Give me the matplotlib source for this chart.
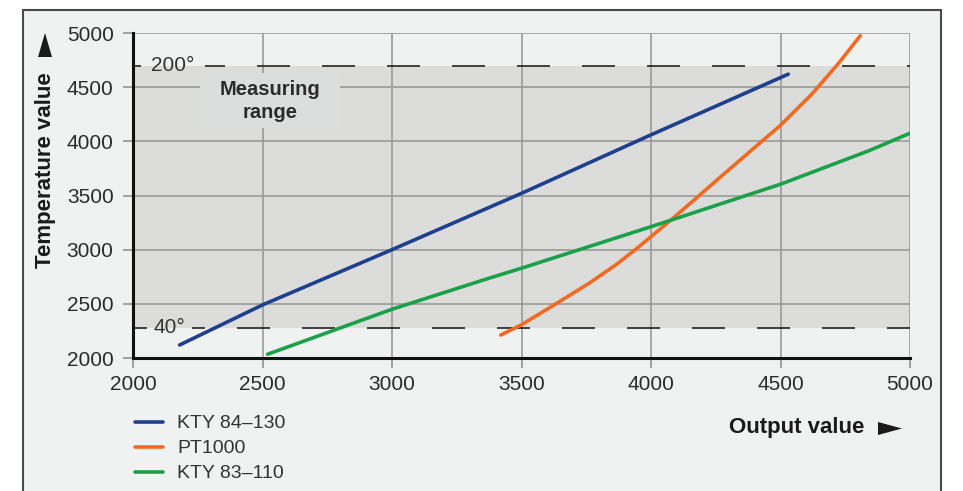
import matplotlib
matplotlib.use("Agg")
import matplotlib.pyplot as plt
from matplotlib.patches import Rectangle, Polygon

plt.rcParams['font.family'] = ['Liberation Sans', 'DejaVu Sans']
plt.rcParams['lines.scale_dashes'] = False

# ---- data ----
kty84_x = [2180, 2500, 3000, 3500, 4000, 4530]
kty84_y = [2120, 2490, 3000, 3520, 4060, 4620]

pt1000_x = [3420, 3500, 3633, 3761, 3864, 3954, 4000, 4069, 4172, 4275, 4403,
            4500, 4622, 4725, 4808]
pt1000_y = [2212, 2307, 2500, 2690, 2859, 3028, 3120, 3258, 3470, 3685, 3949,
            4148, 4438, 4723, 4974]

kty83_x = [2520, 3000, 3375, 3500, 4000, 4500, 4840, 5000]
kty83_y = [2035, 2450, 2737, 2829, 3212, 3604, 3912, 4075]

series_labels = ["KTY 84\u2013130", "PT1000", "KTY 83\u2013110"]
series_colors = ["#1f3f8f", "#f26a21", "#1aa14a"]

x_ticks = [2000, 2500, 3000, 3500, 4000, 4500, 5000]
y_ticks = [2000, 2500, 3000, 3500, 4000, 4500, 5000]

range_low, range_high = 2280, 4700
range_low_label, range_high_label = "40\u00b0", "200\u00b0"

W, H = 963, 491
fig = plt.figure(figsize=(W / 100, H / 100), dpi=100)
fig.patch.set_facecolor("white")

BG = "#f0f2f1"
BAND = "#dcdddb"

def fx(p):
    return p / W

def fy(p):
    return 1 - p / H

# outer frame
frame = Rectangle((fx(23), -0.05), (941 - 23) / W, 1 - 10 / H + 0.05,
                  transform=fig.transFigure, facecolor=BG,
                  edgecolor="#4a4a4a", linewidth=1.5, zorder=-10)
fig.patches.append(frame)

L, R, T, B = 133, 910, 33, 358
ax = fig.add_axes([L / W, 1 - B / H, (R - L) / W, (B - T) / H])
ax.set_zorder(1)
ax.set_facecolor(BG)
ax.set_xlim(2000, 5000)
ax.set_ylim(2000, 5000)
ax.set_xticks(x_ticks)
ax.set_yticks(y_ticks)
ax.set_axisbelow(True)
ax.grid(True, color="#9a9a9a", linewidth=1.2)
for s in ["top", "right"]:
    ax.spines[s].set_visible(False)
for s in ["left", "bottom"]:
    ax.spines[s].set_linewidth(2.2)
    ax.spines[s].set_color("#111111")
    ax.spines[s].set_zorder(5)
ax.tick_params(axis="both", direction="out", length=7, width=1.1,
               color="#8a8a8a", labelsize=15, labelcolor="#2b2b2b")
ax.tick_params(axis="x", pad=5)
ax.tick_params(axis="y", pad=7)

# measuring range band
ax.axhspan(range_low, range_high, facecolor=BAND, edgecolor="none", zorder=0.4)

# dashed boundary lines (broken for labels)
def px2x(p):
    return 2000 + (p - L) / (R - L) * 3000

per = 65 * 0.72
dash = 33 * 0.72
for yv, lab, gap, phase in [(range_high, range_high_label, (141, 205), 6),
                            (range_low, range_low_label, (147, 192), 26)]:
    ax.plot([2000, px2x(gap[0])], [yv, yv], color="#111111", lw=1.1,
            solid_capstyle="butt", zorder=2)
    off = ((gap[1] - L + phase) % 65) * 0.72
    ax.plot([px2x(gap[1]), 5000], [yv, yv], color="#111111", lw=1.1,
            linestyle=(off, (dash, per - dash)), zorder=2)
    ax.text(px2x((gap[0] + gap[1]) / 2), yv, lab, ha="center", va="center",
            fontsize=15, color="#333333", zorder=3)

# measuring range label box
ax.add_patch(Rectangle(((200 - L) / (R - L), (B - 128) / (B - T)),
                       140 / (R - L), 55 / (B - T), transform=ax.transAxes,
                       facecolor="#dcdddd", edgecolor="none", zorder=1))
ax.text((270 - L) / (R - L), (B - 101) / (B - T), "Measuring\nrange",
        transform=ax.transAxes, ha="center", va="center", fontsize=14.5,
        fontweight="bold", color="#2b2b2b", linespacing=1.25, zorder=3)

# curves
for xs, ys, lab, col in [(kty84_x, kty84_y, series_labels[0], series_colors[0]),
                         (pt1000_x, pt1000_y, series_labels[1], series_colors[1]),
                         (kty83_x, kty83_y, series_labels[2], series_colors[2])]:
    ax.plot(xs, ys, color=col, lw=2.6, label=lab, solid_capstyle="round",
            solid_joinstyle="round", zorder=4)

leg = fig.legend(loc="upper left", bbox_to_anchor=(fx(127), fy(407)),
                 frameon=False, fontsize=14, handlelength=1.45, handletextpad=0.72,
                 labelspacing=0.38, borderaxespad=0)
for t in leg.get_texts():
    t.set_color("#333333")

fig.text(fx(46), fy(170), "Temperature value", rotation=90,
         ha="center", va="center", fontsize=16, fontweight="bold", color="#1a1a1a")
fig.text(fx(864), fy(428), "Output value", ha="right", va="center",
         fontsize=16, fontweight="bold", color="#1a1a1a")

# axis direction arrows
fig.patches.append(Polygon([(fx(38), fy(57)), (fx(52), fy(57)), (fx(45), fy(33))],
                           closed=True, transform=fig.transFigure,
                           facecolor="#1a1a1a", edgecolor="none", zorder=2))
fig.patches.append(Polygon([(fx(878), fy(422)), (fx(878), fy(435)), (fx(902), fy(428.5))],
                           closed=True, transform=fig.transFigure,
                           facecolor="#1a1a1a", edgecolor="none", zorder=2))

fig.savefig("out.png", dpi=100, facecolor="white")
